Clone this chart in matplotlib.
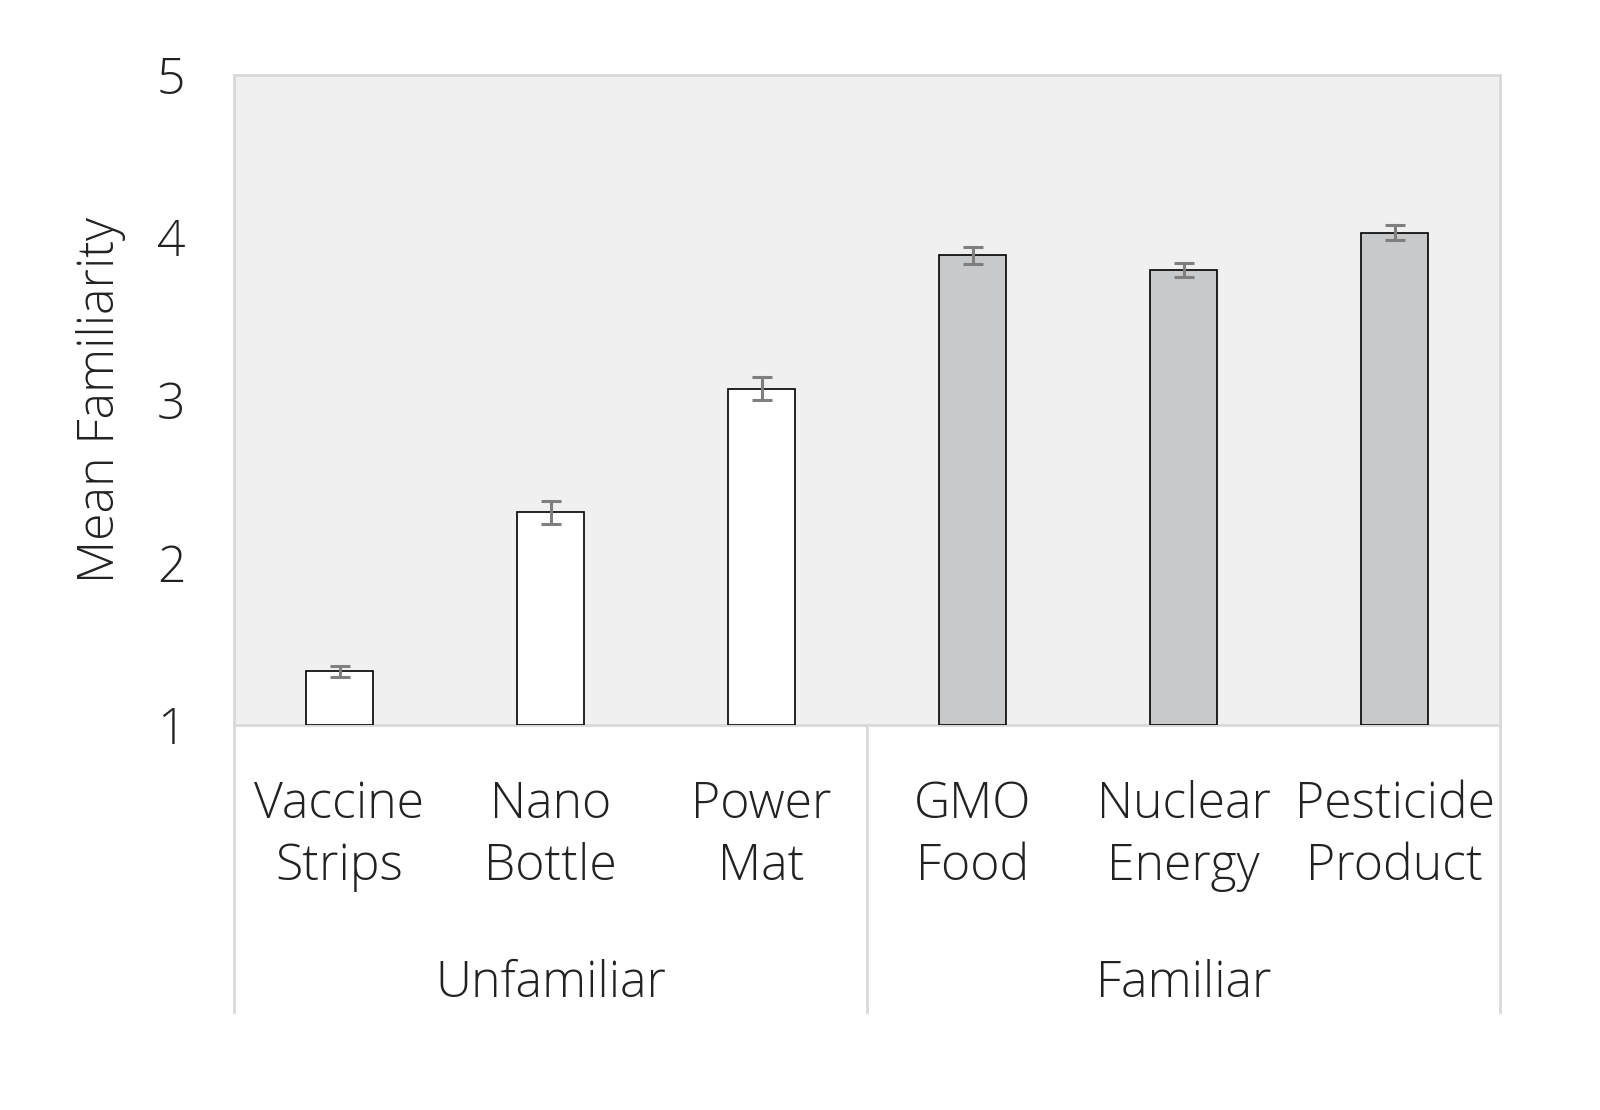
import matplotlib
matplotlib.use("Agg")
import matplotlib.pyplot as plt
import numpy as np

labels = ["Vaccine\nStrips", "Nano\nBottle", "Power\nMat", "GMO\nFood", "Nuclear\nEnergy", "Pesticide\nProduct"]
values = [1.33, 2.31, 3.07, 3.89, 3.80, 4.03]
errors = [0.035, 0.07, 0.07, 0.05, 0.045, 0.045]
groups = ["Unfamiliar", "Familiar"]
colors = ["white"] * 3 + ["#c8c9cb"] * 3

plt.rcParams['font.family'] = ['Open Sans', 'DejaVu Sans']
plt.rcParams['font.weight'] = 'light'

fig = plt.figure(figsize=(16, 11.1), dpi=100)
W, H = 1600, 1110
ax = fig.add_axes([234/W, 1-725/H, (1500-234)/W, (725-75)/H])
ax.set_facecolor("#f0f0f0")
x = np.arange(len(values))
ax.bar(x, np.array(values) - 1, bottom=1, width=0.32, color=colors, edgecolor="black", linewidth=1.2, zorder=3)
ax.errorbar(x, values, yerr=errors, fmt="none", ecolor="#7f7f7f", elinewidth=2.2, capsize=7, capthick=2.2, zorder=4)
ax.set_xlim(-0.5, 5.5)
ax.set_ylim(1, 5)
ax.set_yticks([1, 2, 3, 4, 5])
ax.tick_params(axis='y', labelsize=36, length=0, pad=35, colors="#222222")
ax.set_xticks([])
for s in ax.spines.values():
    s.set_color("#d9d9d9"); s.set_linewidth(2)
ax.set_ylabel("Mean Familiarity", fontsize=36, color="#222222", labelpad=22, fontweight="light")

for i, lab in enumerate(labels):
    ax.text(i, -0.085, lab, transform=ax.get_xaxis_transform(), ha="center", va="top",
            fontsize=36, color="#222222", linespacing=1.3)
for g, name in enumerate(groups):
    ax.text(1 + 3*g, -0.36, name, transform=ax.get_xaxis_transform(), ha="center", va="top",
            fontsize=36, color="#222222")
for xv in [-0.5, 2.5, 5.5]:
    ax.plot([xv, xv], [0, -(1012-725)/650], transform=ax.get_xaxis_transform(),
            color="#d9d9d9", lw=2, clip_on=False)

fig.savefig("out.png", dpi=100, facecolor="white")
